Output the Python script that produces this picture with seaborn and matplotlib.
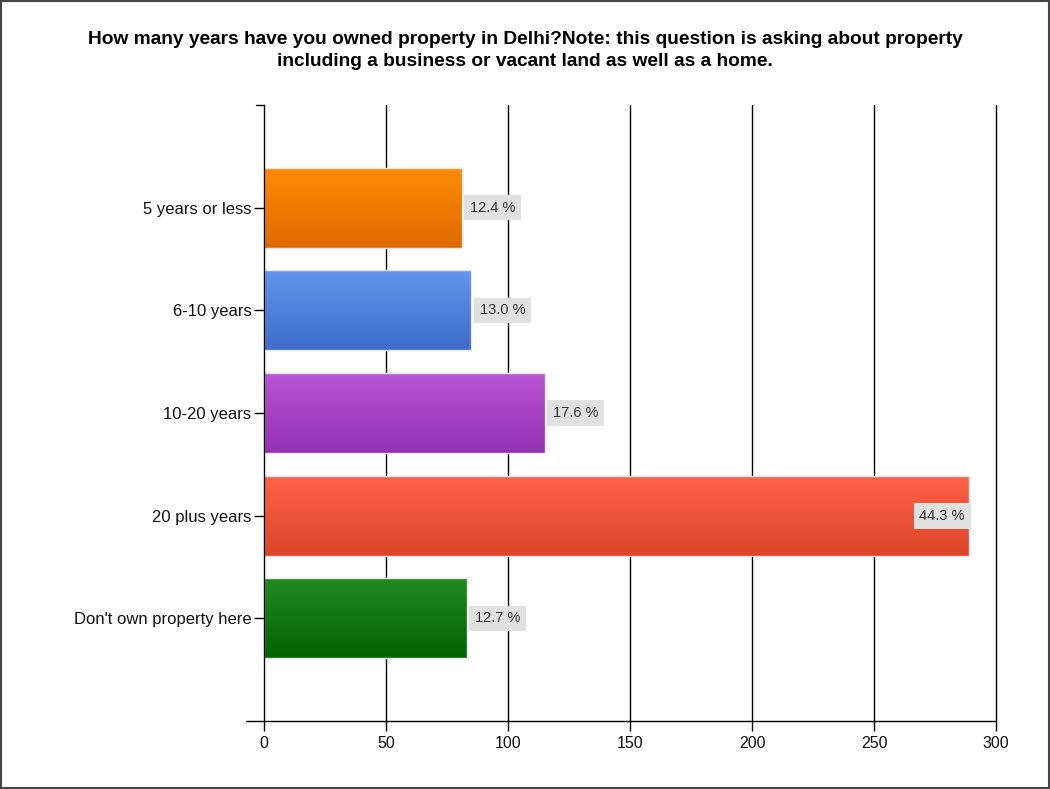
import numpy as np
import pandas as pd
import matplotlib
matplotlib.use("Agg")
import matplotlib.pyplot as plt
import seaborn as sns
from matplotlib.colors import LinearSegmentedColormap
from matplotlib.lines import Line2D
from matplotlib.patches import Rectangle

# Survey responses
categories = ["5 years or less", "6-10 years", "10-20 years", "20 plus years", "Don't own property here"]
counts = [81, 85, 115, 289, 83]
x_ticks = [0, 50, 100, 150, 200, 250, 300]
title = ("How many years have you owned property in Delhi?Note: this question is asking about property\n"
         "including a business or vacant land as well as a home.")

# top / bottom colours of each bar's vertical gradient
top_colors = ["#FF8C00", "#6495ED", "#BA55D3", "#FF6347", "#228B22"]
bottom_colors = ["#DD6A00", "#3F6CCB", "#9630B4", "#DD4428", "#006400"]

sns.set_theme(style="white")
plt.rcParams["font.family"] = ["Liberation Sans", "DejaVu Sans"]

df = pd.DataFrame({"category": categories, "count": counts})
total = sum(counts)

fig = plt.figure(figsize=(10.5, 7.89), dpi=100)
ax = fig.add_axes([264 / 1050, 1 - 721 / 789, 732 / 1050, 616 / 789])

sns.barplot(data=df, x="count", y="category", orient="h", color="#999999",
            width=0.78, ax=ax, zorder=3)

ax.set_xlim(0, 300)
ax.set_xticks(x_ticks)
ax.set_xlabel("")
ax.set_ylabel("")

# gridlines
for xv in x_ticks[1:]:
    ax.axvline(xv, color="black", lw=1.0, zorder=1, clip_on=False)

for s in ["top", "right"]:
    ax.spines[s].set_visible(False)
for s in ["left", "bottom"]:
    ax.spines[s].set_color("black")
    ax.spines[s].set_linewidth(1.0)
    ax.spines[s].set_zorder(5)

ax.tick_params(axis="both", which="both", length=7, width=1, color="black",
               labelsize=12, labelcolor="#111111", direction="out", pad=2)
ax.tick_params(axis="x", bottom=True, pad=4, labelsize=11.5)
ax.tick_params(axis="y", left=True)

# gradient fill for each bar, clipped to the bar shape
grad = np.linspace(0, 1, 256).reshape(-1, 1)
for patch, c0, c1, cnt in zip(ax.patches, top_colors, bottom_colors, counts):
    x0, y0 = patch.get_x(), patch.get_y()
    w, h = patch.get_width(), patch.get_height()
    cmap = LinearSegmentedColormap.from_list("g", [c0, c1])
    im = ax.imshow(grad, cmap=cmap, aspect="auto", extent=[x0, x0 + w, y0 + h, y0],
                   origin="upper", zorder=3.5)
    im.set_clip_path(patch)
    patch.set_facecolor("none")
    patch.set_edgecolor("#E6E6E6")
    patch.set_linewidth(1.0)
    patch.set_zorder(4)

    pct = cnt / total * 100
    label = f"{pct:.1f} %"
    yc = y0 + h / 2
    box = dict(boxstyle="square,pad=0.4", fc="#E0E0E0", ec="none")
    if w > 250:
        ax.text(x0 + w - 1.8, yc, label, ha="right", va="center", fontsize=10.5,
                color="#333333", zorder=6, bbox=box)
    else:
        ax.text(x0 + w + 3.5, yc, label, ha="left", va="center", fontsize=10.5,
                color="#333333", zorder=6, bbox=box)

ax.set_ylim(len(categories), -1)

# extra axis marks at the corners
ax.add_line(Line2D([-0.011, 0], [1, 1], transform=ax.transAxes, color="black",
                   lw=1, clip_on=False, zorder=5))
ax.add_line(Line2D([-0.025, 0], [0, 0], transform=ax.transAxes, color="black",
                   lw=1, clip_on=False, zorder=5))

fig.text(0.5, 1 - 50.5 / 789, title, ha="center", va="center", fontsize=13.8,
         fontweight="bold", color="black", linespacing=1.38)

# outer frame
fig.patches.append(Rectangle((0.001, 0.001), 0.998, 0.998, transform=fig.transFigure,
                             fill=False, ec="#444444", lw=1.5))

fig.savefig("out.png", dpi=100)
